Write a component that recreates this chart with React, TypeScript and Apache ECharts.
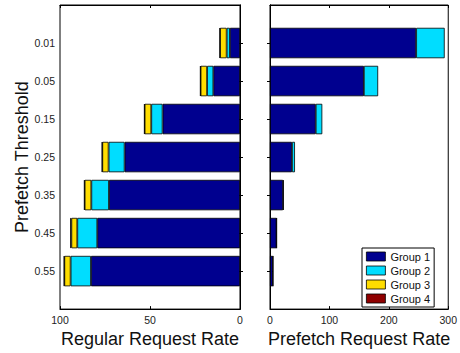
import React, { useEffect, useRef } from "react";
import * as echarts from "echarts";

const categories = ["0.01", "0.05", "0.15", "0.25", "0.35", "0.45", "0.55"];
const groupNames = ["Group 1", "Group 2", "Group 3", "Group 4"];
const groupColors = ["#00008F", "#00DDFF", "#FFDD00", "#8F0000"];

const regularG1 = [5.6, 14.8, 43, 64.1, 72.8, 79.3, 82.8];
const regularG2 = [1.8, 3.5, 6.3, 8.9, 9.8, 11.1, 11.3];
const regularG3 = [3.7, 3.6, 3.7, 3.5, 3.7, 3.3, 3.5];
const regularG4 = [0.2, 0.2, 0.2, 0.2, 0.3, 0.6, 0.2];

const prefetchG1 = [246, 158, 77, 37, 22, 11, 5];
const prefetchG2 = [48, 24, 11, 5, 1, 0.3, 0.2];
const prefetchG3 = [0, 0, 0, 0, 0, 0, 0];
const prefetchG4 = [0, 0, 0, 0, 0, 0, 0];

const regularTicks = { min: 0, max: 100, interval: 50 };
const prefetchTicks = { min: 0, max: 300, interval: 100 };

const FONT = "Liberation Sans, Arial, Helvetica, sans-serif";

export default function App() {
  const ref = useRef<HTMLDivElement>(null);
  useEffect(() => {
    if (!ref.current) return;
    const chart = echarts.init(ref.current, undefined, { renderer: "svg" });
    const yCats = [" ", ...categories, "  "];
    const pad = (a: number[]) => ["-", ...a.map((v) => (v === 0 ? "-" : v)), "-"] as any[];
    const inner = (i: number) => i > 0 && i < yCats.length - 1;
    const tickStyle = { show: true, inside: true, length: 3, lineStyle: { color: "#000", width: 1 } };
    const lineStyle = { show: true, lineStyle: { color: "#000", width: 1 } };
    const labelStyle = { color: "#222", fontSize: 10.5, fontFamily: FONT };
    const nameStyle = { color: "#111", fontSize: 18, fontFamily: FONT };

    const regular = [regularG1, regularG2, regularG3, regularG4];
    const prefetch = [prefetchG1, prefetchG2, prefetchG3, prefetchG4];
    const series: any[] = [];
    regular.forEach((d, i) =>
      series.push({
        type: "bar",
        name: groupNames[i],
        xAxisIndex: 0,
        yAxisIndex: 0,
        stack: "regular",
        barWidth: "80%",
        data: pad(d),
        itemStyle: { color: groupColors[i], borderColor: "#000", borderWidth: 0.8 },
      })
    );
    prefetch.forEach((d, i) =>
      series.push({
        type: "bar",
        name: groupNames[i],
        xAxisIndex: 2,
        yAxisIndex: 2,
        stack: "prefetch",
        barWidth: "80%",
        data: pad(d),
        itemStyle: { color: groupColors[i], borderColor: "#000", borderWidth: 0.8 },
      })
    );

    const yBase = {
      type: "category",
      data: yCats,
      inverse: true,
      boundaryGap: false,
      axisLine: lineStyle,
      splitLine: { show: false },
    };

    chart.setOption({
      animation: false,
      backgroundColor: "#fff",
      grid: [
        { left: 60, width: 180, top: 5, bottom: 41, show: true, borderColor: "#000", borderWidth: 1 },
        { left: 270, width: 180, top: 5, bottom: 41, show: true, borderColor: "#000", borderWidth: 1 },
      ],
      xAxis: [
        {
          type: "value",
          gridIndex: 0,
          inverse: true,
          ...regularTicks,
          position: "bottom",
          axisLine: lineStyle,
          axisTick: tickStyle,
          axisLabel: { ...labelStyle, margin: 5 },
          splitLine: { show: false },
          name: "Regular Request Rate",
          nameLocation: "middle",
          nameGap: 19,
          nameTextStyle: nameStyle,
        },
        {
          type: "value",
          gridIndex: 0,
          inverse: true,
          ...regularTicks,
          position: "top",
          axisLine: lineStyle,
          axisTick: tickStyle,
          axisLabel: { show: false },
          splitLine: { show: false },
        },
        {
          type: "value",
          gridIndex: 1,
          ...prefetchTicks,
          position: "bottom",
          axisLine: lineStyle,
          axisTick: tickStyle,
          axisLabel: { ...labelStyle, margin: 5 },
          splitLine: { show: false },
          name: "Prefetch Request Rate",
          nameLocation: "middle",
          nameGap: 19,
          nameTextStyle: nameStyle,
        },
        {
          type: "value",
          gridIndex: 1,
          ...prefetchTicks,
          position: "top",
          axisLine: lineStyle,
          axisTick: tickStyle,
          axisLabel: { show: false },
          splitLine: { show: false },
        },
      ],
      yAxis: [
        {
          ...yBase,
          gridIndex: 0,
          position: "left",
          axisTick: { ...tickStyle, interval: (i: number) => inner(i) },
          axisLabel: { ...labelStyle, margin: 5, interval: (i: number) => inner(i) },
          name: "Prefetch Threshold",
          nameLocation: "middle",
          nameGap: 29,
          nameRotate: 90,
          nameTextStyle: nameStyle,
        },
        {
          ...yBase,
          gridIndex: 0,
          position: "right",
          axisTick: { ...tickStyle, interval: (i: number) => inner(i) },
          axisLabel: { show: false },
        },
        {
          ...yBase,
          gridIndex: 1,
          position: "left",
          axisTick: { ...tickStyle, interval: (i: number) => inner(i) },
          axisLabel: { show: false },
        },
        {
          ...yBase,
          gridIndex: 1,
          position: "right",
          axisTick: { ...tickStyle, interval: (i: number) => inner(i) },
          axisLabel: { show: false },
        },
      ],
      legend: {
        data: groupNames,
        orient: "vertical",
        left: 362,
        top: 248,
        icon: "rect",
        itemWidth: 19,
        itemHeight: 9,
        itemGap: 3,
        padding: [3, 4, 3, 4],
        borderColor: "#000",
        borderWidth: 1,
        backgroundColor: "#fff",
        itemStyle: { borderColor: "#000", borderWidth: 0.8 },
        textStyle: { color: "#111", fontSize: 11, fontFamily: FONT, lineHeight: 10 },
      },
      series,
    });
    return () => chart.dispose();
  }, []);
  return <div ref={ref} style={{ width: 460, height: 353, position: "absolute", left: 0, top: 0 }} />;
}
